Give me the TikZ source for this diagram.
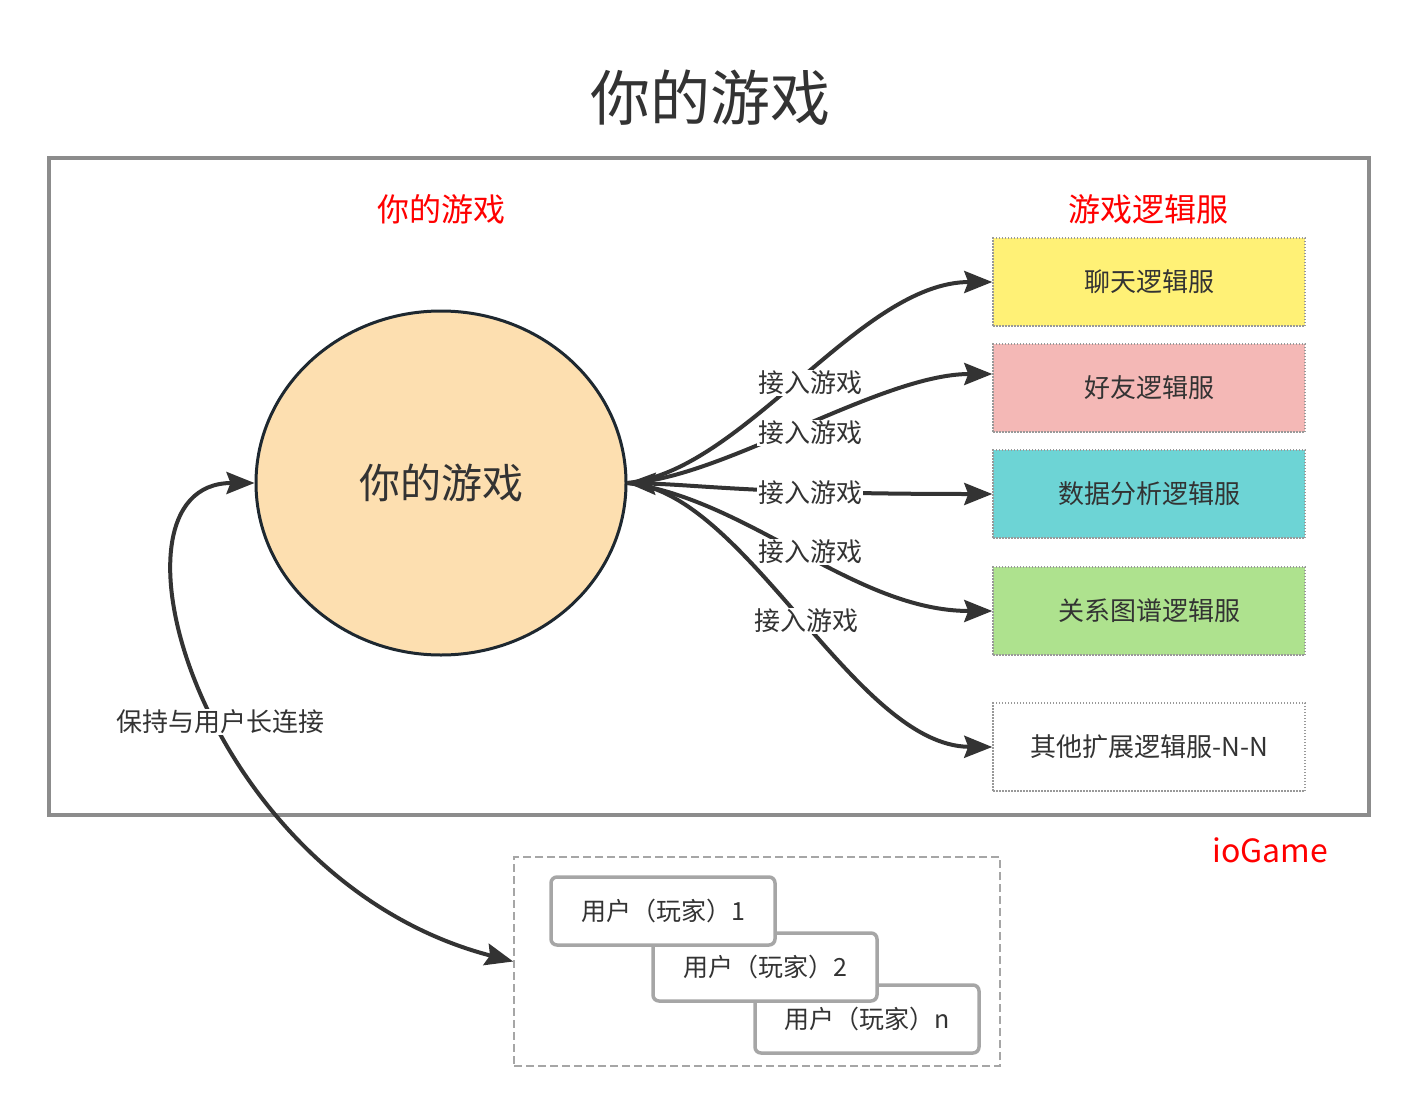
\documentclass[tikz,border=0pt]{standalone}
\usepackage{fontspec}
\setmainfont{Noto Sans CJK SC}
\usetikzlibrary{arrows.meta,shapes.geometric}
\definecolor{txt}{HTML}{333333}
\definecolor{ln}{HTML}{333333}
\definecolor{frame}{HTML}{8C8C8C}
\definecolor{circfill}{HTML}{FDDFB0}
\definecolor{circline}{HTML}{1E2830}
\definecolor{cyellow}{HTML}{FFF176}
\definecolor{cpink}{HTML}{F4B8B6}
\definecolor{ccyan}{HTML}{6DD4D5}
\definecolor{cgreen}{HTML}{AEE28E}
\definecolor{dotgray}{HTML}{999999}
\definecolor{ugray}{HTML}{A6A6A6}
\newcommand\myfs[1]{\fontsize{#1}{#1}\selectfont}
\begin{document}
\begin{tikzpicture}[x=1pt,y=-1pt,
  srv/.style={draw=dotgray, dash pattern=on 1.5pt off 1.5pt, line width=1.5pt,
    minimum width=312pt, minimum height=88pt, text=txt, font=\myfs{26}},
  user/.style={draw=ugray, line width=3.5pt, rounded corners=6pt, fill=white,
    minimum width=224pt, minimum height=68pt, text=txt, font=\myfs{25}},
  lbl/.style={fill=white, inner sep=1pt, text=txt, font=\myfs{26}},
  redlbl/.style={text=red, font=\myfs{32}},
  conn/.style={draw=ln, line width=4pt, -{Stealth[length=28pt,width=22pt,inset=4pt]}},
  both/.style={draw=ln, line width=4pt, {Stealth[length=28pt,width=22pt,inset=4pt]}-{Stealth[length=28pt,width=22pt,inset=4pt]}}
]
\useasboundingbox (0,0) rectangle (1419,1116);
\fill[white] (0,0) rectangle (1419,1116);

% title
\node[text=txt, font=\myfs{60}] (title) at (710,98) {你的游戏};

% outer frame
\node[draw=frame, line width=4pt, minimum width=1320pt, minimum height=657pt, inner sep=0pt] (frame) at (709,486.5) {};

\node[redlbl] (lgame) at (441,209) {你的游戏};
\node[redlbl] (lsrv) at (1148,209) {游戏逻辑服};
\node[redlbl] (io) at (1270,850) {ioGame};

% circle
\node[ellipse, draw=circline, line width=3pt, fill=circfill, minimum width=370pt, minimum height=344pt,
  text=txt, font=\myfs{41}] (game) at (441,483) {你的游戏};

% servers
\node[srv, fill=cyellow] (chat) at (1149,282) {聊天逻辑服};
\node[srv, fill=cpink] (friend) at (1149,388) {好友逻辑服};
\node[srv, fill=ccyan] (data) at (1149,494) {数据分析逻辑服};
\node[srv, fill=cgreen] (rel) at (1149,611) {关系图谱逻辑服};
\node[srv, fill=white] (other) at (1149,747) {其他扩展逻辑服-N-N};

% connectors
\draw[conn] (game.east) .. controls (745,470) and (860,282) .. (chat.west);
\draw[conn] (game.east) .. controls (720,480) and (880,374) .. ([yshift=14pt]friend.west);
\draw[conn] (game.east) .. controls (750,500) and (855,611) .. (rel.west);
\draw[conn] (game.east) .. controls (745,490) and (855,746) .. (other.west);
\draw[both] (game.east) .. controls (700,485) and (760,494) .. (data.west);

\node[lbl] (l1) at (810,383) {接入游戏};
\node[lbl] (l2) at (810,433) {接入游戏};
\node[lbl] (l3) at (810,493) {接入游戏};
\node[lbl] (l4) at (810,552) {接入游戏};
\node[lbl] (l5) at (806,621) {接入游戏};

% users group
\node[draw=ugray, dash pattern=on 8pt off 4pt, line width=1.5pt, minimum width=486pt, minimum height=209pt, inner sep=0pt] (users) at (757,961.5) {};
\node[user] (u3) at (867,1019) {用户（玩家）n};
\node[user] (u2) at (765,967) {用户（玩家）2};
\node[user] (u1) at (663,911) {用户（玩家）1};

% long connection
\draw[both] (game.west) .. controls (90,483) and (200,880) .. (users.west);
\node[lbl] (lconn) at (220,722) {保持与用户长连接};
\end{tikzpicture}
\end{document}
